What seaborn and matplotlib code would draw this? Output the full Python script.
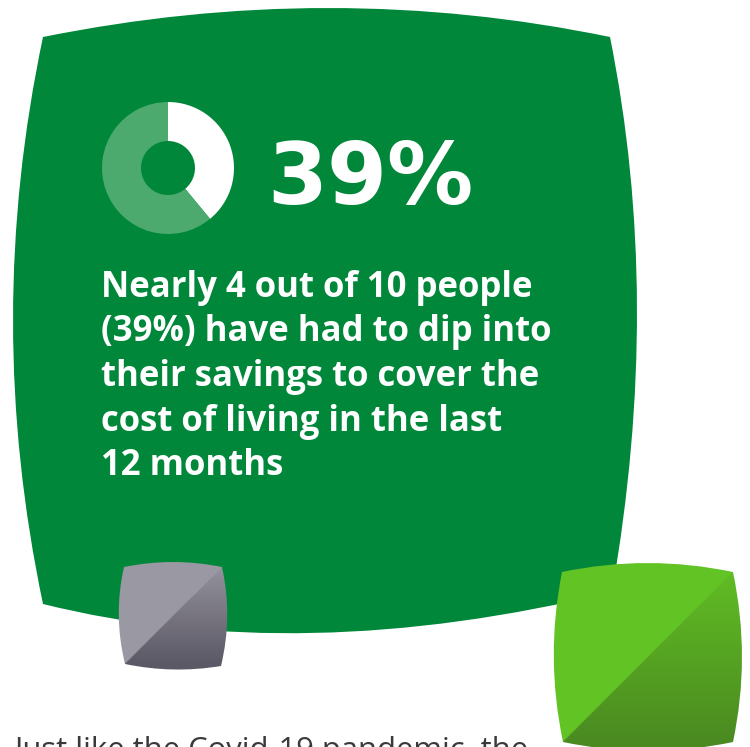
import numpy as np
import matplotlib
matplotlib.use("Agg")
import matplotlib.pyplot as plt
import seaborn as sns
from matplotlib.path import Path
from matplotlib.patches import PathPatch
from matplotlib.colors import to_rgb

# ---- data -------------------------------------------------------------
share_labels = ["Dipped into savings", "Did not"]
share_values = [39, 61]
headline = "39%"
body_lines = [
    "Nearly 4 out of 10 people",
    "(39%) have had to dip into",
    "their savings to cover the",
    "cost of living in the last",
    "12 months",
]
footer_text = "Just like the Covid-19 pandemic, the"

# ---- style ------------------------------------------------------------
sns.set_theme(style="white")
plt.rcParams["font.family"] = ["Open Sans", "DejaVu Sans"]

GREEN = "#00873a"
DONUT_LIGHT = "#4caa6e"
GREY_LIGHT = "#9b99a3"
GREY_DARK = "#5c5966"
LIME_LIGHT = "#63c324"
LIME_DARK = "#4b8a21"

W, H = 750, 747
fig = plt.figure(figsize=(W / 100, H / 100), dpi=100)
ax = fig.add_axes([0, 0, 1, 1])
ax.set_xlim(0, W)
ax.set_ylim(H, 0)
ax.axis("off")


def pillow(corners, ctrls):
    """Closed shape with four corners joined by quadratic curves."""
    tl, tr, br, bl = corners
    ct, cr, cb, cl = ctrls
    verts = [tl, ct, tr, cr, br, cb, bl, cl, tl, tl]
    codes = [Path.MOVETO,
             Path.CURVE3, Path.CURVE3,
             Path.CURVE3, Path.CURVE3,
             Path.CURVE3, Path.CURVE3,
             Path.CURVE3, Path.CURVE3,
             Path.CLOSEPOLY]
    return Path(verts, codes)


# big green panel
panel = pillow([(43, 37), (610, 37), (612, 592), (43, 604)],
               [(330, -21), (663, 300), (300, 668), (-17, 320)])
ax.add_patch(PathPatch(panel, facecolor=GREEN, edgecolor="none", zorder=1))


def shaded_square(corners, ctrls, light, dark, z):
    path = pillow(corners, ctrls)
    xs = [c[0] for c in corners] + [c[0] for c in ctrls]
    ys = [c[1] for c in corners] + [c[1] for c in ctrls]
    x0, x1 = min(xs), max(xs)
    y0, y1 = min(ys), max(ys)
    nx, ny = int((x1 - x0) * 2), int((y1 - y0) * 2)
    gx = np.linspace(x0, x1, nx)
    gy = np.linspace(y0, y1, ny)
    XX, YY = np.meshgrid(gx, gy)
    tl, tr, br, bl = corners
    # diagonal from the lower-left corner to the upper-right corner
    yline = bl[1] + (XX - bl[0]) * (tr[1] - bl[1]) / (tr[0] - bl[0])
    upper = YY < yline
    cmap = sns.blend_palette([light, dark], n_colors=256, as_cmap=True)
    t = np.clip((YY - tr[1]) / (bl[1] - tr[1]), 0, 1)
    img = cmap(0.12 + 0.88 * t)[..., :3]
    img[upper] = to_rgb(light)
    im = ax.imshow(img, extent=(x0, x1, y1, y0), origin="upper",
                   interpolation="bilinear", zorder=z, aspect="auto")
    patch = PathPatch(path, facecolor="none", edgecolor="none",
                      transform=ax.transData)
    ax.add_patch(patch)
    im.set_clip_path(patch)


shaded_square([(124, 567), (222, 567), (221, 666), (125, 664)],
              [(173, 557), (233, 616), (173, 674), (113, 615)],
              GREY_LIGHT, GREY_DARK, 3)
shaded_square([(562, 572), (733, 572), (733, 742), (563, 742)],
              [(648, 554), (751, 657), (648, 760), (545, 657)],
              LIME_LIGHT, LIME_DARK, 3)
ax.set_xlim(0, W)
ax.set_ylim(H, 0)

# donut
cx, cy, r_px = 168, 168, 66
box = 70
dax = fig.add_axes([(cx - box) / W, 1 - (cy + box) / H, 2 * box / W, 2 * box / H])
dax.pie(share_values, colors=["white", DONUT_LIGHT], startangle=90,
        counterclock=False, radius=r_px / box,
        wedgeprops=dict(width=(r_px - 27) / box, edgecolor="none"))
dax.set_xlim(-1, 1)
dax.set_ylim(-1, 1)
dax.set_aspect("equal")
dax.axis("off")

# headline and statement
ax.text(267, 204, headline, color="white", fontsize=62, fontweight="bold",
        family=["DejaVu Sans"], ha="left", va="baseline", zorder=5)
baselines = [297, 341.5, 386, 430.5, 475]
for line, yb in zip(body_lines, baselines):
    ax.text(101, yb, line, color="white", fontsize=25, fontweight="bold",
            ha="left", va="baseline", zorder=5)

ax.text(14, 759, footer_text, color="#3a3a3a", fontsize=22.3,
        ha="left", va="baseline", zorder=5, clip_on=False)

fig.savefig("out.png", dpi=100)
